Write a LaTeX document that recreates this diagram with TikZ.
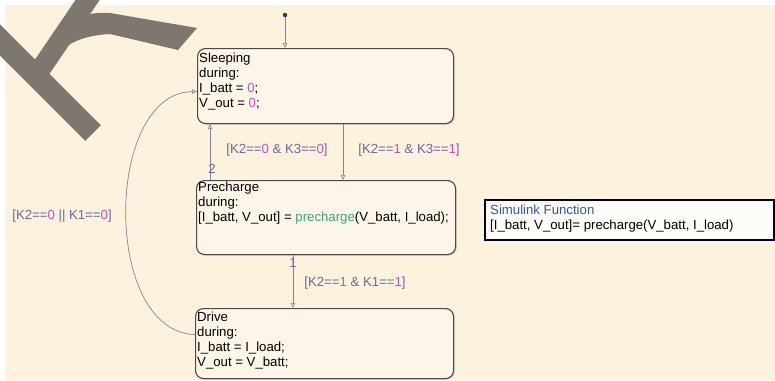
\documentclass[tikz,border=0pt]{standalone}
\usepackage{fontspec}
\setmainfont{Liberation Sans}
\usetikzlibrary{arrows.meta,shadows}
\definecolor{bgcream}{HTML}{FDF2DE}
\definecolor{boxfill}{HTML}{FDF5E8}
\definecolor{boxline}{HTML}{4A4A4A}
\definecolor{kgray}{HTML}{7D776F}
\definecolor{trcol}{HTML}{8A8298}
\definecolor{lblcol}{HTML}{6A6A9C}
\definecolor{numcol}{HTML}{C855B8}
\definecolor{fncol}{HTML}{3FA08C}
\definecolor{sfblue}{HTML}{35589A}
\newcommand{\nm}[1]{\textcolor{numcol}{#1}}
\tikzset{
  statebox/.style={draw=boxline, line width=1.1pt, rounded corners=8pt, fill=boxfill,
    drop shadow={shadow xshift=1.2pt, shadow yshift=-1.2pt, opacity=0.3}, inner sep=0pt},
  statetext/.style={anchor=north west, align=left, inner sep=0pt, text=black,
    font=\fontsize{13.2}{15}\selectfont},
  trans/.style={draw=trcol, line width=0.7pt, -{Triangle[open, length=5pt, width=4.5pt]}},
  lbl/.style={inner sep=0pt, text=lblcol, font=\fontsize{13.2}{15}\selectfont},
  fnbox/.style={draw=black!85!blue, line width=1.8pt, fill=white!70!boxfill, inner sep=0pt,
    drop shadow={shadow xshift=1.2pt, shadow yshift=-1.2pt, fill=blue!30!gray, opacity=0.45}},
}
\begin{document}
\begin{tikzpicture}[x=1pt,y=-1pt]
\useasboundingbox (0,0) rectangle (775,380);
\fill[white] (0,0) rectangle (775,380);
\fill[bgcream] (5,5) rectangle (775,380);
% watermark shape
\draw[kgray, line width=22pt] (-15,25) -- (93,133);
\draw[kgray, line width=20pt] (40,70) -- (93,-8);
\fill[kgray] (44,72) .. controls (58,48) and (75,36) .. (110,34) -- (178,50) -- (197,28)
  -- (110,13) .. controls (85,11) and (70,20) .. (58,40) -- cycle;
% states
\node[statebox, minimum width=256pt, minimum height=75pt, anchor=north west] (sleeping) at (197,48) {};
\node[statetext] (sleepingtxt) at (199,53) {Sleeping\\during:\\I\_batt = \nm{0};\\V\_out = \nm{0};};
\node[statebox, minimum width=259pt, minimum height=74pt, anchor=north west] (precharge) at (196,180) {};
\node[statetext] (prechargetxt) at (198,182) {Precharge\\during:\\{[}I\_batt, V\_out] = \textcolor{fncol}{precharge}(V\_batt, I\_load);};
\node[statebox, minimum width=258pt, minimum height=70pt, anchor=north west] (drive) at (195,308) {};
\node[statetext] (drivetxt) at (197,311.5) {Drive\\during:\\I\_batt = I\_load;\\V\_out = V\_batt;};
% simulink function
\node[fnbox, minimum width=289pt, minimum height=40pt, anchor=north west] (simfn) at (484,199) {};
\node[statetext] (simfntxt) at (490,204.5) {\textcolor{sfblue}{Simulink Function}\\{[}I\_batt, V\_out]= precharge(V\_batt, I\_load)};
% default transition
\node[circle, fill=black!60!blue!60!gray, inner sep=0pt, minimum size=4.5pt] (init) at (285,15) {};
\draw[trans] (init) -- ([xshift=88pt]sleeping.north west);
% transitions
\draw[trans] ([xshift=146pt]sleeping.south west) -- ([xshift=147pt]precharge.north west);
\draw[trans] ([xshift=14pt]precharge.north west) -- ([xshift=13pt]sleeping.south west);
\draw[trans] ([xshift=97pt]precharge.south west) -- ([xshift=98pt]drive.north west);
\draw[trans] ([yshift=9pt]drive.west) .. controls (102,332) and (104,93) .. ([yshift=-5.5pt]sleeping.west);
% labels
\node[lbl] (l1) at (277,150) {[K2==\nm{0} \& K3==\nm{0}]};
\node[lbl] (l2) at (409,150) {[K2==\nm{1} \& K3==\nm{1}]};
\node[lbl] (l3) at (355,283) {[K2==\nm{1} \& K1==\nm{1}]};
\node[lbl] (l4) at (62,216) {[K2==\nm{0} || K1==\nm{0}]};
\node[lbl] (p2) at (212,169) {2};
\node[lbl] (p1) at (293,263) {1};
\end{tikzpicture}
\end{document}
